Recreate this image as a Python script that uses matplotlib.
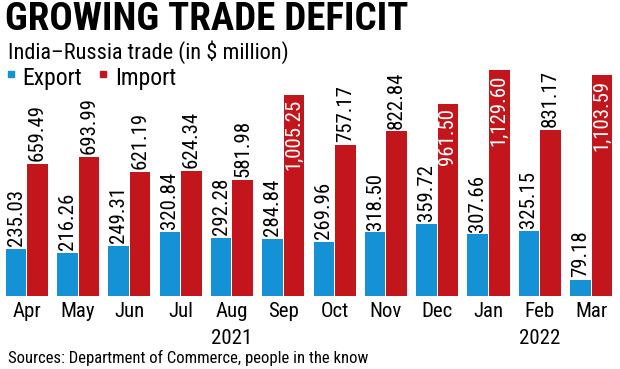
import numpy as np
from matplotlib import pyplot as plt
from matplotlib import font_manager as fm

months = ['Apr', 'May', 'Jun', 'Jul', 'Aug', 'Sep', 'Oct', 'Nov', 'Dec', 'Jan', 'Feb', 'Mar']
export = [235.03, 216.26, 249.31, 320.84, 292.28, 284.84, 269.96, 318.50, 359.72, 307.66, 325.15, 79.18]
imports = [659.49, 693.99, 621.19, 624.34, 581.98, 1005.25, 757.17, 822.84, 961.50, 1129.60, 831.17, 1103.59]
years = {'Aug': '2021', 'Feb': '2022'}

BLUE = '#1591d6'
RED = '#c3161c'


def weight_num(w):
    if isinstance(w, int):
        return w
    return {'normal': 400, 'regular': 400, 'book': 400, 'medium': 500,
            'semibold': 600, 'demibold': 600, 'bold': 700, 'heavy': 800,
            'black': 900, 'light': 300}.get(str(w).lower(), 400)


def find_narrow(bold):
    # look for some condensed face among the installed fonts
    prefs = ['Roboto Condensed', 'Liberation Sans Narrow', 'Noto Sans', 'Open Sans',
             'DejaVu Sans', 'Roboto']
    best = None
    for f in fm.fontManager.ttflist:
        narrow = ('Narrow' in f.name or 'Condensed' in f.name or
                  f.stretch in ('condensed', 'semi-condensed', 'extra-condensed', 300, 400))
        if not narrow or f.style != 'normal':
            continue
        wn = weight_num(f.weight)
        if bold and wn < 600:
            continue
        if not bold and (wn < 400 or wn > 500):
            continue
        fam = f.name.replace(' Condensed', '').replace(' Narrow', '')
        rank = prefs.index(f.name) if f.name in prefs else (prefs.index(fam) if fam in prefs else 99)
        if best is None or rank < best[0]:
            best = (rank, f.fname)
    return best[1] if best else None


reg_file = find_narrow(False)
bold_file = find_narrow(True)
shrink = 1.0 if reg_file else 0.82


def fp(size, bold=False):
    f = bold_file if bold else reg_file
    if f:
        return fm.FontProperties(fname=f, size=size)
    return fm.FontProperties(family='DejaVu Sans', size=size * shrink,
                             weight='bold' if bold else 'normal')


fig = plt.figure(figsize=(6.2, 3.69), dpi=100)
ax = fig.add_axes([0, 73 / 369, 1, 236 / 369])

x = np.arange(len(months))
w = 0.4
ax.bar(x - 0.21, export, w, color=BLUE)
ax.bar(x + 0.21, imports, w, color=RED)

for i in range(len(months)):
    ax.annotate(f'{export[i]:,.2f}', (x[i] - 0.21, export[i]), xytext=(0, 2),
                textcoords='offset points', rotation=90, ha='center', va='bottom',
                fontproperties=fp(15))
    if imports[i] > 900:
        # big ones go inside the bar in white
        ax.annotate(f'{imports[i]:,.2f}', (x[i] + 0.21, imports[i]), xytext=(0, -3),
                    textcoords='offset points', rotation=90, ha='center', va='top',
                    fontproperties=fp(15), color='white')
    else:
        ax.annotate(f'{imports[i]:,.2f}', (x[i] + 0.21, imports[i]), xytext=(0, 2),
                    textcoords='offset points', rotation=90, ha='center', va='bottom',
                    fontproperties=fp(15))

ax.set_xlim(-0.522, 11.564)
ax.set_ylim(0, 1180)
ax.set_xticks(x)
ax.set_xticklabels(months)
for t in ax.get_xticklabels():
    t.set_fontproperties(fp(15))
ax.tick_params(axis='x', length=0, pad=4)
ax.set_yticks([])
for s in ax.spines.values():
    s.set_visible(False)

for i, m in enumerate(months):
    if m in years:
        ax.annotate(years[m], (x[i], 0), xytext=(0, -24), textcoords='offset points',
                    ha='center', va='top', fontproperties=fp(15))

fig.text(0.008, 0.997, 'GROWING TRADE DEFICIT', fontproperties=fp(28, True),
         va='top', ha='left')
fig.text(0.013, 1 - 52 / 369, 'India\u2013Russia trade (in $ million)', fontproperties=fp(16),
         va='center', ha='left')
fig.patches.append(plt.Rectangle((8 / 620, 1 - 77 / 369), 6 / 620, 6 / 369,
                                 color=BLUE, transform=fig.transFigure, figure=fig))
fig.text(22 / 620, 1 - 78 / 369, 'Export', fontproperties=fp(17), va='center', ha='left')
fig.patches.append(plt.Rectangle((100 / 620, 1 - 77 / 369), 6 / 620, 6 / 369,
                                 color=RED, transform=fig.transFigure, figure=fig))
fig.text(115 / 620, 1 - 78 / 369, 'Import', fontproperties=fp(17), va='center', ha='left')

fig.text(8 / 620, 1 - 358 / 369, 'Sources: Department of Commerce, people in the know',
         fontproperties=fp(12), va='center', ha='left')

fig.savefig('out.png', dpi=100)
